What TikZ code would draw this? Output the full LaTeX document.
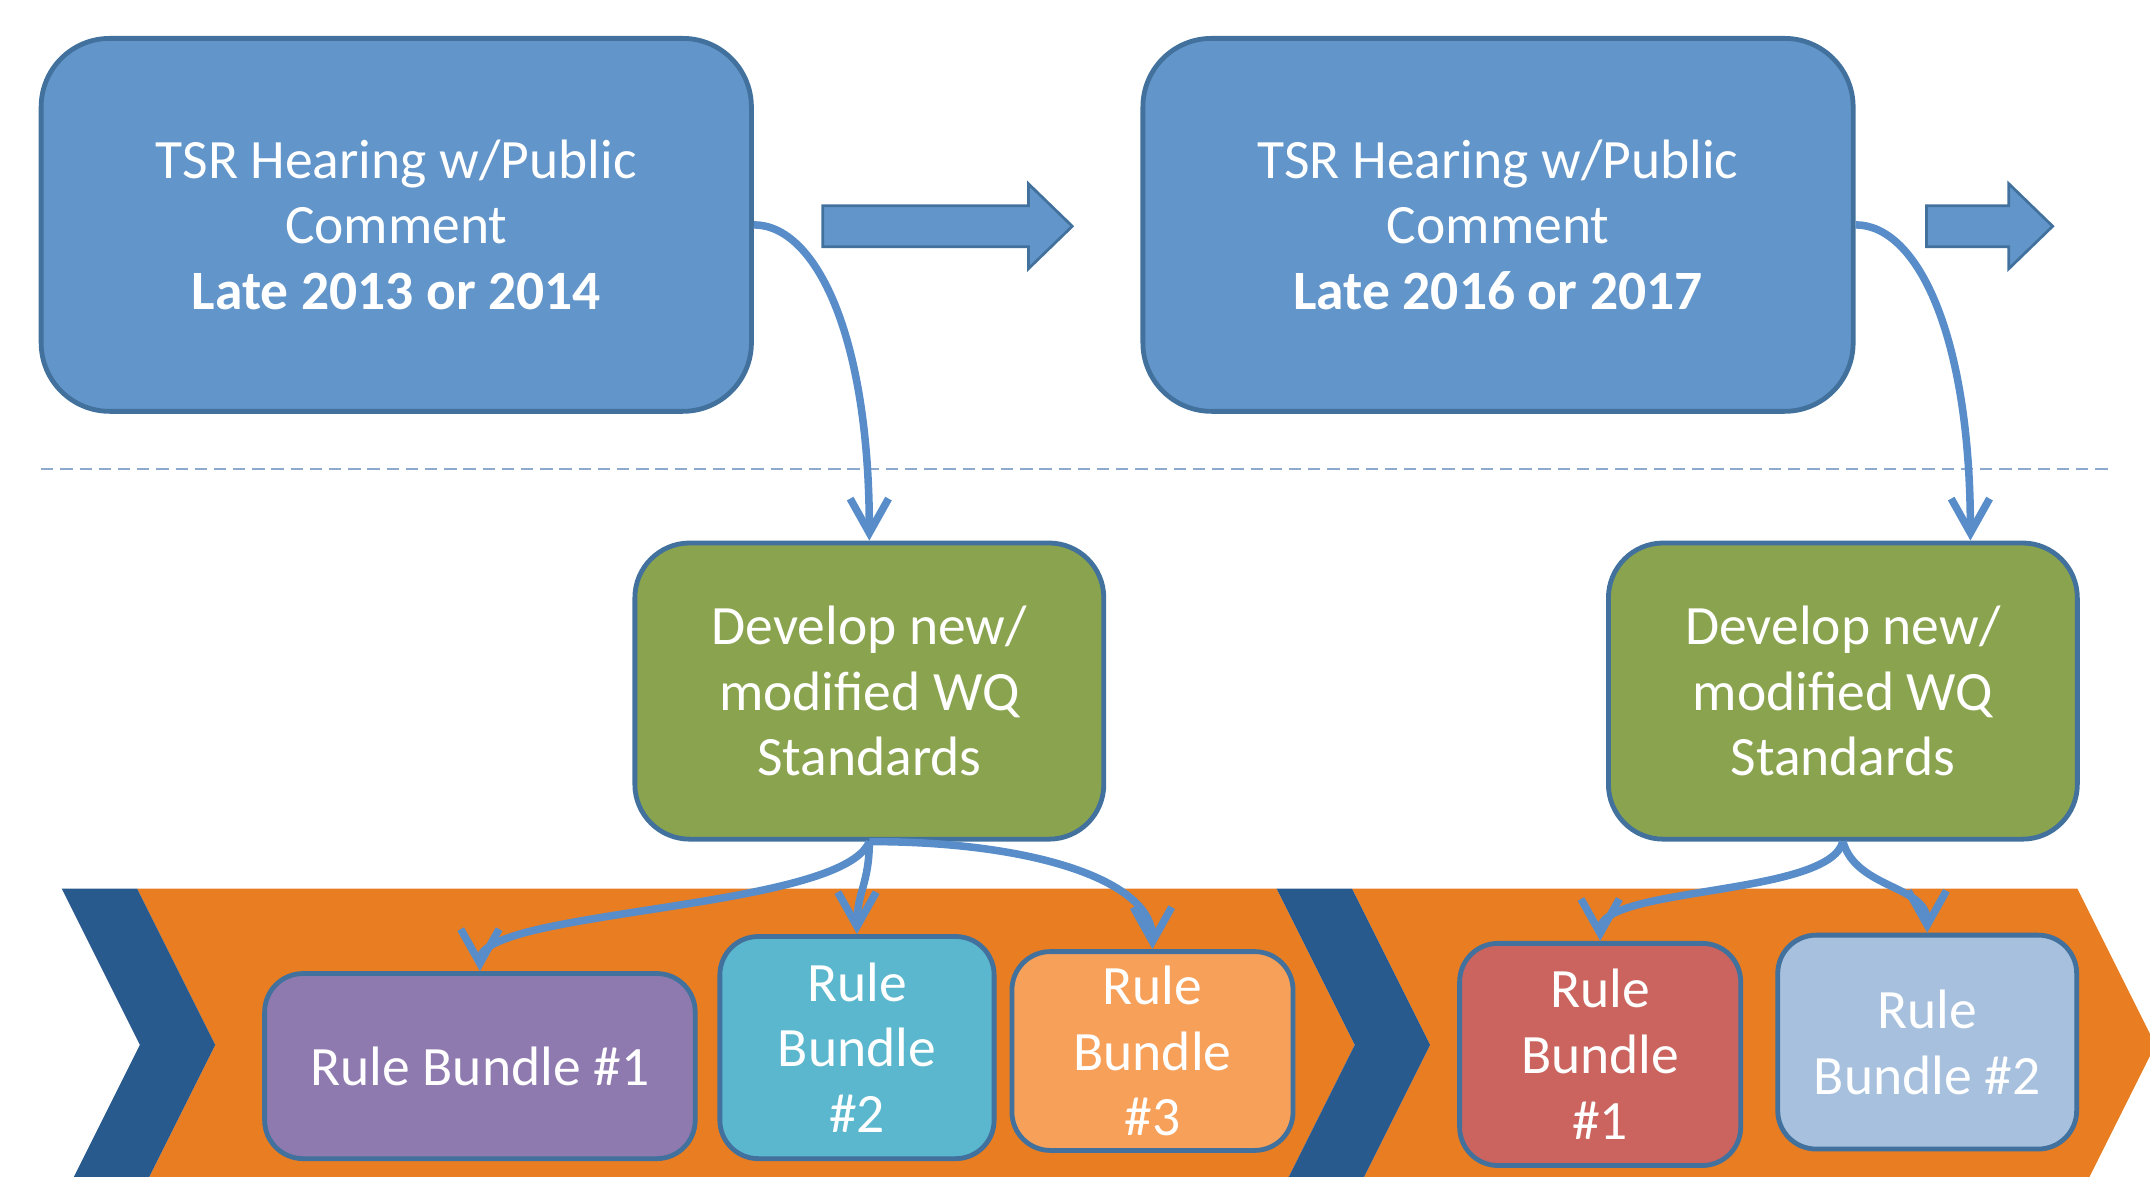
\documentclass[tikz,border=0pt]{standalone}
\usepackage{fontspec}
\setmainfont{Carlito}
\usetikzlibrary{calc,arrows.meta}
\definecolor{boxblue}{RGB}{98,149,201}
\definecolor{edgeblue}{RGB}{65,113,156}
\definecolor{wqgreen}{RGB}{138,163,78}
\definecolor{bandorange}{RGB}{233,125,34}
\definecolor{chevblue}{RGB}{40,90,142}
\definecolor{flowblue}{RGB}{88,141,201}
\definecolor{dashblue}{RGB}{140,170,205}
\definecolor{rbpurple}{RGB}{143,122,176}
\definecolor{rbteal}{RGB}{91,183,206}
\definecolor{rborange}{RGB}{247,160,90}
\definecolor{rbred}{RGB}{203,100,94}
\definecolor{rblight}{RGB}{166,192,222}
\tikzset{
  boxtext/.style={text=white, align=center, font=\fontsize{40.5}{48}\selectfont},
  hearing/.style={boxtext, draw=edgeblue, fill=boxblue, line width=3.5pt, rounded corners=50pt, minimum width=518pt, minimum height=272pt},
  develop/.style={boxtext, draw=edgeblue, fill=wqgreen, line width=3.5pt, rounded corners=40pt, minimum width=342pt, minimum height=216pt},
  bundle/.style={boxtext, draw=edgeblue, line width=3.5pt, rounded corners=28pt, inner sep=0pt},
  flow/.style={draw=flowblue, line width=5.5pt, -{Straight Barb[length=25pt,width=28pt]}},
  blockarrow/.style={draw=edgeblue, fill=boxblue, line width=2pt, line join=miter}
}
\begin{document}
\begin{tikzpicture}[x=1pt, y=-1pt]
    \useasboundingbox (0,0) rectangle (1568,858);
    \clip (0,0) rectangle (1568,858);
    % process band
    \fill[bandorange] (100,648) -- (931,648) -- (988,762) -- (931,876) -- (100,876) -- (157,762) -- cycle;
    \fill[bandorange] (986,648) -- (1515,648) -- (1572,762) -- (1515,876) -- (986,876) -- (1043,762) -- cycle;
    \foreach \a in {45,931}
        \fill[chevblue] (\a,648) -- (\a+55,648) -- (\a+112,762) -- (\a+55,876) -- (\a,876) -- (\a+57,762) -- cycle;
    \draw[dashblue, line width=1.5pt, dash pattern=on 9pt off 5pt] (30,342) -- (1540,342);
    % block arrows
    \foreach \a/\b in {600/782, 1405/1497}
        \draw[blockarrow] (\a,150) -- (\b-32,150) -- (\b-32,134) -- (\b,165) -- (\b-32,196) -- (\b-32,180) -- (\a,180) -- cycle;

    \node[hearing] (tsr1) at (289,164) {TSR Hearing w/Public\\Comment\\\textbf{Late 2013 or 2014}};
    \node[hearing] (tsr2) at (1092.5,164) {TSR Hearing w/Public\\Comment\\\textbf{Late 2016 or 2017}};
    \node[develop] (wq1) at (634,504) {Develop new/\\modified WQ\\Standards};
    \node[develop] (wq2) at (1344,504) {Develop new/\\modified WQ\\Standards};

    \node[bundle, fill=rbpurple, minimum width=314pt, minimum height=135pt] (rb1) at (350,777.5) {Rule Bundle \#1};
    \node[bundle, fill=rbteal, minimum width=200pt, minimum height=162pt] (rb2) at (625,764) {Rule\\Bundle\\\#2};
    \node[bundle, fill=rborange, minimum width=205pt, minimum height=145pt] (rb3) at (840.5,766.5) {Rule\\Bundle\\\#3};
    \node[bundle, fill=rbred, minimum width=205pt, minimum height=162pt] (rb4) at (1167,769) {Rule\\Bundle\\\#1};
    \node[bundle, fill=rblight, minimum width=218pt, minimum height=156pt] (rb5) at (1405.5,760) {Rule\\Bundle \#2};

    \coordinate (wq2in) at ($(wq2.north)+(93,0)$);
    \draw[flow] (tsr1.east) .. controls +(45,0) and +(0,-150) .. (wq1.north);
    \draw[flow] (tsr2.east) .. controls +(45,0) and +(0,-150) .. (wq2in);
    \draw[flow] (wq1.south) .. controls +(-20,50) and +(0,-45) .. (rb1.north);
    \draw[flow] (wq1.south) .. controls +(0,30) and +(0,-30) .. (rb2.north);
    \draw[flow] (wq1.south) .. controls +(120,0) and +(0,-50) .. (rb3.north);
    \draw[flow] (wq2.south) .. controls +(-10,40) and +(0,-40) .. (rb4.north);
    \draw[flow] (wq2.south) .. controls +(10,35) and +(0,-35) .. (rb5.north);
\end{tikzpicture}
\end{document}
